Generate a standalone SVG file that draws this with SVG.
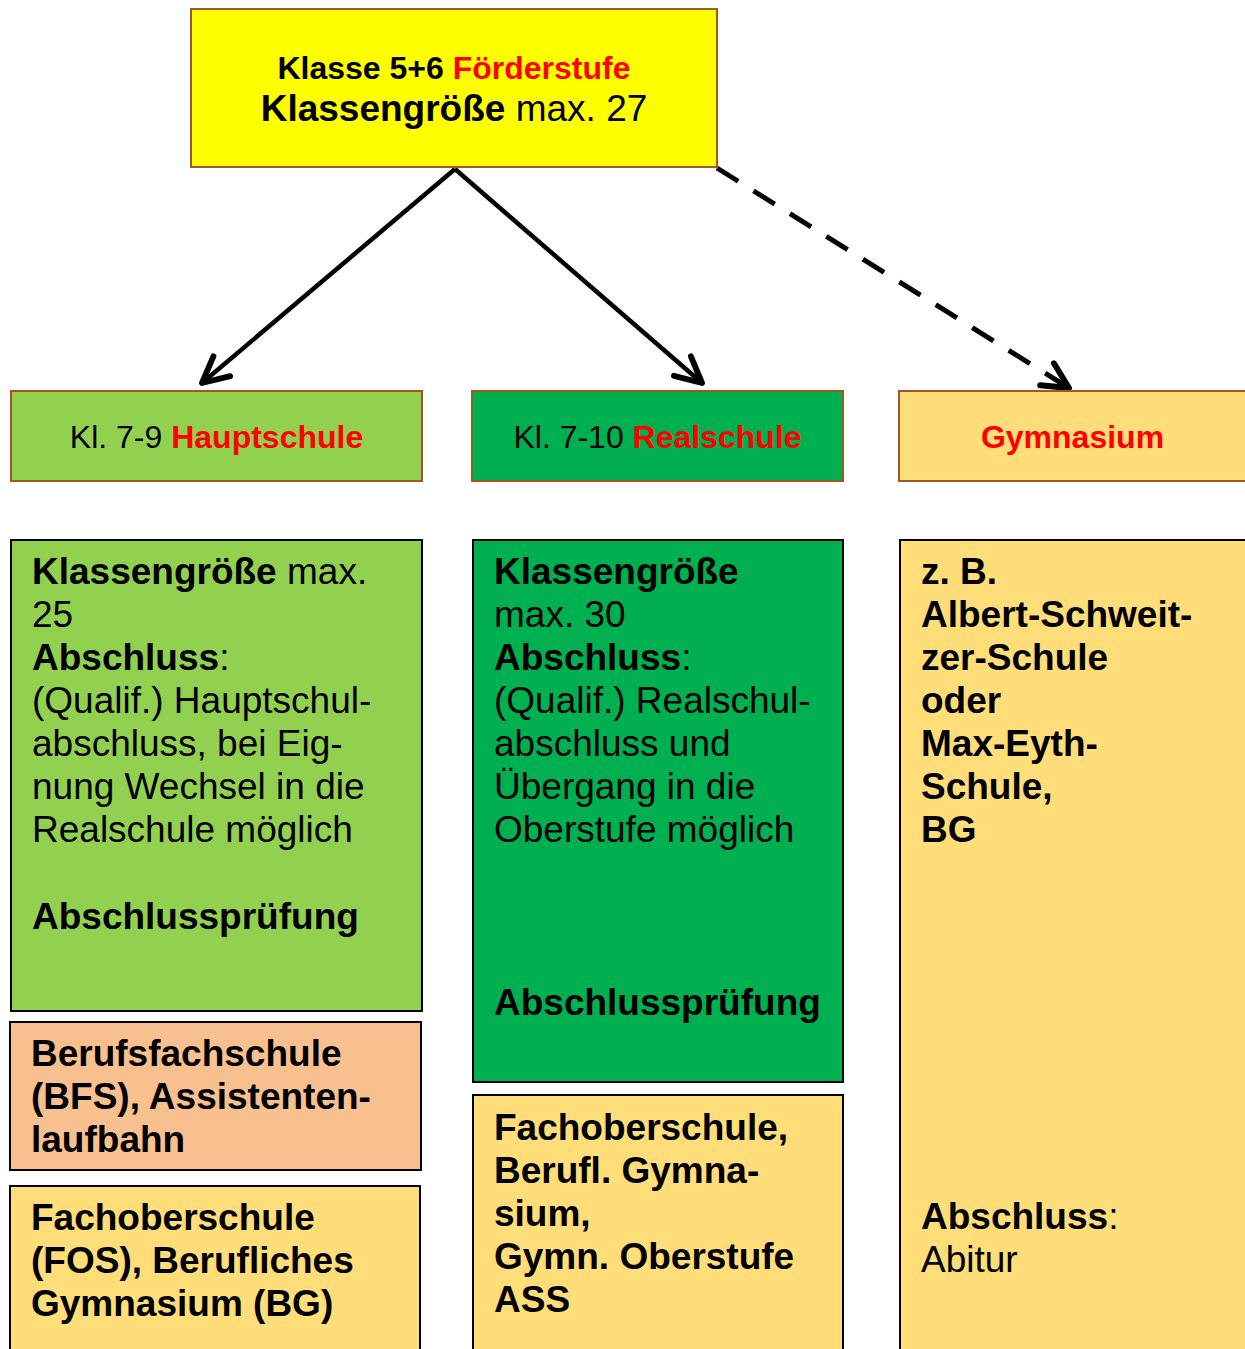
<svg xmlns="http://www.w3.org/2000/svg" width="1245" height="1349" viewBox="0 0 1245 1349">
<defs>
<style>
text{font-family:"Liberation Sans",Arial,sans-serif;fill:#000}
.b{font-weight:bold}
.red{fill:#FF0000}
.top{stroke:#A0581E;stroke-width:2}
.low{stroke:#000;stroke-width:2}
.t{font-size:37px}
.h{font-size:32px}
.conn{stroke:#000;stroke-width:4.5;fill:none}
.dash{stroke-dasharray:25 18;stroke-width:5}
</style>
<marker id="arr" markerUnits="userSpaceOnUse" markerWidth="40" markerHeight="40" viewBox="-30 -15 34 30" refX="0" refY="0" orient="auto">
<path d="M-22,-11 L0,0 L-22,11" fill="none" stroke="#000" stroke-width="5" stroke-linecap="round" stroke-linejoin="round"/>
</marker>
</defs>
<rect width="1245" height="1349" fill="#fff"/>
<g id="connectors">
<line class="conn" x1="455" y1="169" x2="202" y2="383" marker-end="url(#arr)"/>
<line class="conn" x1="455" y1="169" x2="702" y2="383" marker-end="url(#arr)"/>
<line class="conn dash" x1="717" y1="168" x2="1069" y2="388" marker-end="url(#arr)"/>
</g>
<g id="foerderstufe">
<rect class="top" x="191" y="9" width="526" height="158" fill="#FFFF00"/>
<text x="454" y="79" text-anchor="middle" font-size="32" class="b">Klasse 5+6 <tspan class="red">Förderstufe</tspan></text>
<text x="454" y="121" text-anchor="middle" font-size="37"><tspan class="b">Klassengröße</tspan> max. 27</text>
</g>
<g id="hauptschule">
<rect class="top" x="11" y="391" width="411" height="90" fill="#92D050"/>
<text x="216.5" y="448" text-anchor="middle" class="h">Kl. 7-9 <tspan class="b red">Hauptschule</tspan></text>
</g>
<g id="realschule">
<rect class="top" x="472" y="391" width="371" height="90" fill="#00B050"/>
<text x="657.5" y="448" text-anchor="middle" class="h">Kl. 7-10 <tspan class="b red">Realschule</tspan></text>
</g>
<g id="gymnasium">
<rect class="top" x="899" y="391" width="350" height="90" fill="#FFDD79"/>
<text x="1072.5" y="448" text-anchor="middle" class="h b red">Gymnasium</text>
</g>
<g id="hs-details">
<rect class="low" x="11" y="540" width="411" height="471" fill="#92D050"/>
<text class="t" x="32" y="584"><tspan class="b">Klassengröße</tspan> max.</text>
<text class="t" x="32" y="627">25</text>
<text class="t" x="32" y="670"><tspan class="b">Abschluss</tspan>:</text>
<text class="t" x="32" y="713">(Qualif.) Hauptschul-</text>
<text class="t" x="32" y="756">abschluss, bei Eig-</text>
<text class="t" x="32" y="799">nung Wechsel in die</text>
<text class="t" x="32" y="842">Realschule möglich</text>
<text class="t b" x="32" y="929">Abschlussprüfung</text>
</g>
<g id="bfs">
<rect class="low" x="10" y="1022" width="411" height="148" fill="#F9C08F"/>
<text class="t b" x="31" y="1066">Berufsfachschule</text>
<text class="t b" x="31" y="1109">(BFS), Assistenten-</text>
<text class="t b" x="31" y="1152">laufbahn</text>
</g>
<g id="fos-bg">
<rect class="low" x="10" y="1186" width="410" height="175" fill="#FFDD79"/>
<text class="t b" x="31" y="1230">Fachoberschule</text>
<text class="t b" x="31" y="1273">(FOS), Berufliches</text>
<text class="t b" x="31" y="1316">Gymnasium (BG)</text>
</g>
<g id="rs-details">
<rect class="low" x="473" y="540" width="370" height="542" fill="#00B050"/>
<text class="t b" x="494" y="584">Klassengröße</text>
<text class="t" x="494" y="627">max. 30</text>
<text class="t" x="494" y="670"><tspan class="b">Abschluss</tspan>:</text>
<text class="t" x="494" y="713">(Qualif.) Realschul-</text>
<text class="t" x="494" y="756">abschluss und</text>
<text class="t" x="494" y="799">Übergang in die</text>
<text class="t" x="494" y="842">Oberstufe möglich</text>
<text class="t b" x="494" y="1015">Abschlussprüfung</text>
</g>
<g id="rs-next">
<rect class="low" x="473" y="1095" width="370" height="266" fill="#FFDD79"/>
<text class="t b" x="494" y="1140">Fachoberschule,</text>
<text class="t b" x="494" y="1183">Berufl. Gymna-</text>
<text class="t b" x="494" y="1226">sium,</text>
<text class="t b" x="494" y="1269">Gymn. Oberstufe</text>
<text class="t b" x="494" y="1312">ASS</text>
</g>
<g id="gym-details">
<rect class="low" x="900" y="540" width="360" height="821" fill="#FFDD79"/>
<text class="t b" x="921" y="584">z. B.</text>
<text class="t b" x="921" y="627">Albert-Schweit-</text>
<text class="t b" x="921" y="670">zer-Schule</text>
<text class="t b" x="921" y="713">oder</text>
<text class="t b" x="921" y="756">Max-Eyth-</text>
<text class="t b" x="921" y="799">Schule,</text>
<text class="t b" x="921" y="842">BG</text>
<text class="t" x="921" y="1229"><tspan class="b">Abschluss</tspan>:</text>
<text class="t" x="921" y="1272">Abitur</text>
</g>
</svg>
